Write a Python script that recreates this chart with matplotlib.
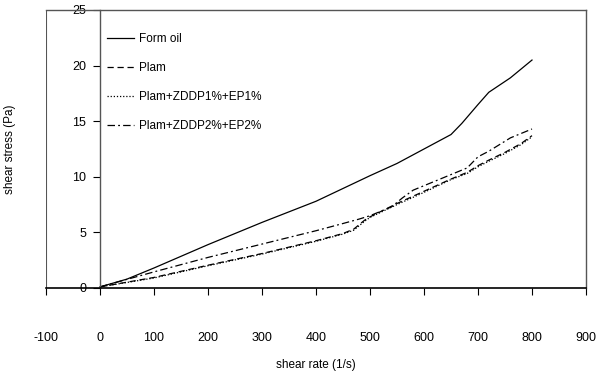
import matplotlib
matplotlib.use("Agg")
import matplotlib.pyplot as plt

plt.rcParams['font.family'] = ['Liberation Sans', 'DejaVu Sans']
plt.rcParams['axes.unicode_minus'] = False

x_form = [0, 50, 100, 200, 300, 400, 500, 550, 600, 650, 670, 700, 720, 760, 800]
y_form = [0.1, 0.8, 1.8, 3.9, 5.9, 7.8, 10.1, 11.2, 12.5, 13.8, 14.8, 16.5, 17.6, 18.9, 20.5]

x_plam = [0, 100, 200, 300, 400, 450, 470, 490, 500, 550, 600, 650, 680, 700, 720, 750, 780, 800]
y_plam = [0.1, 0.95, 2.05, 3.1, 4.25, 4.9, 5.3, 6.1, 6.4, 7.6, 8.7, 9.8, 10.4, 11.0, 11.5, 12.2, 13.0, 13.7]

x_z1 = [0, 100, 200, 300, 400, 450, 470, 490, 500, 550, 600, 650, 680, 700, 720, 750, 780, 800]
y_z1 = [0.1, 0.9, 2.0, 3.05, 4.2, 4.85, 5.2, 6.0, 6.35, 7.5, 8.6, 9.75, 10.3, 10.9, 11.4, 12.1, 12.9, 13.6]

x_z2 = [0, 100, 200, 300, 400, 450, 480, 500, 540, 560, 580, 600, 650, 680, 700, 720, 760, 800]
y_z2 = [0.1, 1.45, 2.75, 3.95, 5.15, 5.8, 6.2, 6.5, 7.3, 8.1, 8.8, 9.2, 10.2, 10.8, 11.8, 12.3, 13.5, 14.3]

labels = ["Form oil", "Plam", "Plam+ZDDP1%+EP1%", "Plam+ZDDP2%+EP2%"]
xticks = [-100, 0, 100, 200, 300, 400, 500, 600, 700, 800, 900]
yticks = [0, 5, 10, 15, 20, 25]

fig = plt.figure(figsize=(5.97, 3.79), dpi=100)
ax = fig.add_axes([46/597, 1-288/379, 540/597, 278/379])

ax.plot(x_form, y_form, color='black', lw=0.9, ls='-', label=labels[0])
ax.plot(x_plam, y_plam, color='black', lw=0.9, ls=(0, (5, 3)), label=labels[1])
ax.plot(x_z1, y_z1, color='black', lw=0.9, ls=(0, (1, 1.5)), label=labels[2])
ax.plot(x_z2, y_z2, color='black', lw=0.9, ls=(0, (6, 2.5, 1.5, 2.5)), label=labels[3])

ax.set_xlim(-100, 900)
ax.set_ylim(0, 25)
ax.set_xticks(xticks)
ax.set_yticks(yticks)

ax.spines['left'].set_position(('data', 0))
ax.spines['left'].set_color('#555555')
ax.spines['left'].set_linewidth(1.0)
for s in ['top', 'right']:
    ax.spines[s].set_color('#555555')
    ax.spines[s].set_linewidth(1.0)
ax.spines['bottom'].set_color('black')
ax.spines['bottom'].set_linewidth(1.2)
ax.axvline(-100, color='#555555', lw=1.5)

ax.tick_params(axis='x', direction='out', length=5, pad=27, labelsize=9, width=0.8)
ax.tick_params(axis='y', direction='out', length=5, pad=5, labelsize=9, width=0.8)

ax.set_xlabel("shear rate (1/s)", fontsize=8.5)
ax.xaxis.set_label_coords(0.5, -0.255)
ax.set_ylabel("shear stress (Pa)", fontsize=8.5)
ax.yaxis.set_label_coords(-0.055, 0.5)

leg = ax.legend(loc='upper left', bbox_to_anchor=(0.104, 0.935), frameon=False,
                fontsize=8.5, handlelength=2.3, handletextpad=0.4, labelspacing=1.45,
                borderaxespad=0.0)

fig.savefig("out.png", dpi=100)
